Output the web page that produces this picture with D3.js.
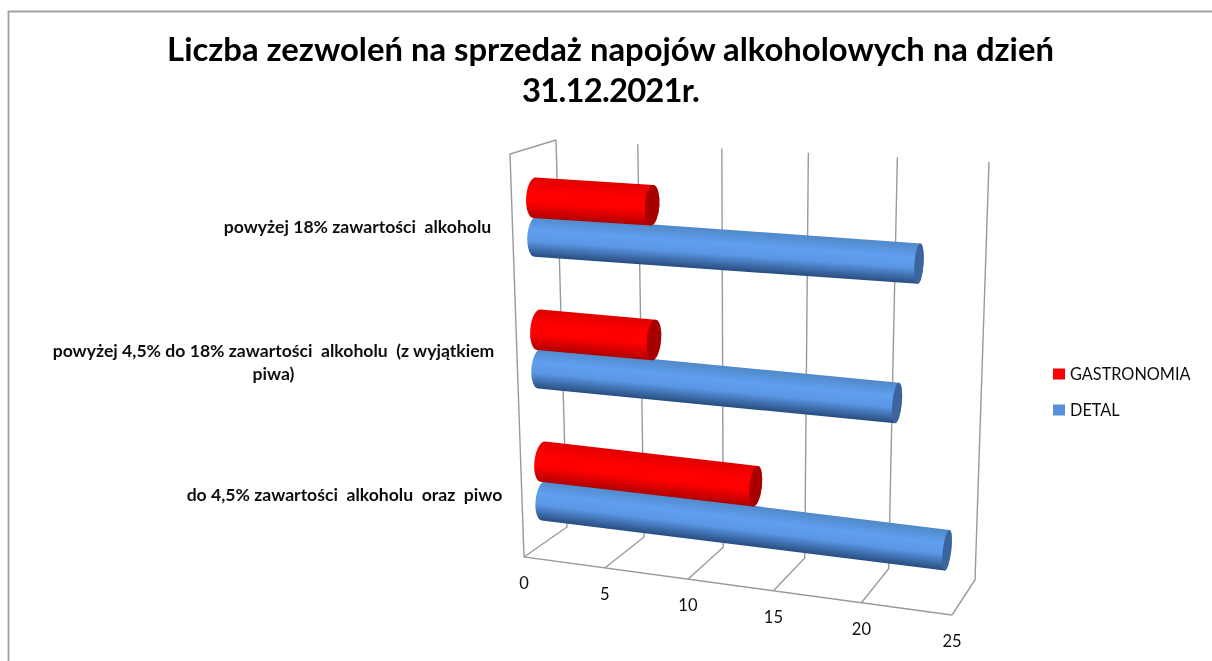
<!DOCTYPE html>
<html lang="pl"><head><meta charset="utf-8">
<script src="https://cdn.jsdelivr.net/npm/d3@7"></script>
<style>html,body{margin:0;background:#fff}svg{display:block}text{font-family:Lato,"Open Sans",sans-serif;fill:#111}</style>
</head><body><svg id="c" width="1212" height="661"></svg>
<script>
const titleLines = ["Liczba zezwoleń na sprzedaż napojów alkoholowych na dzień", "31.12.2021r."];
const categories = ["powyżej 18% zawartości  alkoholu", "powyżej 4,5% do 18% zawartości  alkoholu  (z wyjątkiem piwa)", "do 4,5% zawartości  alkoholu  oraz  piwo"];
const categoryLines = [["powyżej 18% zawartości  alkoholu"], ["powyżej 4,5% do 18% zawartości  alkoholu  (z wyjątkiem", "piwa)"], ["do 4,5% zawartości  alkoholu  oraz  piwo"]];
const seriesNames = ["GASTRONOMIA", "DETAL"];
const gastronomia = [7, 7, 13];
const detal = [22, 21, 24];
const ticks = [0, 5, 10, 15, 20, 25];

const svg = d3.select("#c");
const defs = svg.append("defs");
defs.append("filter").attr("id","soft").attr("x","-5%").attr("y","-5%").attr("width","110%").attr("height","110%")
  .append("feGaussianBlur").attr("stdDeviation",0.45);

// 3D box projected on the page
const box = {
  fb0:[524,557], fb1:[952,615], bb0:[567,527], bb1:[975,580],
  bt0:[556,140], bt1:[989,162], ft0:[510,154], ft1:[968,180]
};
const tScale = d3.scaleLinear().domain([0,25]).range([0,1]);
const u = v => { const t = tScale(v); return t/(t+(1-t)*1.074); };
const lerp = (a,b,k)=>[a[0]+(b[0]-a[0])*k, a[1]+(b[1]-a[1])*k];
function project(v, depth, h){
  const k = u(v);
  const fb = lerp(box.fb0,box.fb1,k), bb = lerp(box.bb0,box.bb1,k),
        bt = lerp(box.bt0,box.bt1,k), ft = lerp(box.ft0,box.ft1,k);
  return lerp(lerp(fb,bb,depth), lerp(ft,bt,depth), h);
}
const hBand = d3.scaleBand().domain([...categories].reverse()).range([-0.0125,0.9895]);
const hSeries = d3.scalePoint().domain([seriesNames[1],seriesNames[0]]).range([-0.049,0.049]);

const root = svg.append("g").attr("filter","url(#soft)");
root.append("path").attr("d","M8.5,661V11.5H1212").attr("fill","none").attr("stroke","#a0a0a0").attr("stroke-width",1.8);

const grid = root.append("g").attr("fill","none").attr("stroke","#9a9a9a").attr("stroke-width",1.4);
const line = d3.line();
ticks.forEach(t=>{
  grid.append("path").attr("d",line([project(t,1,1),project(t,1,0),project(t,0,0)]));
});
grid.append("path").attr("d",line([project(0,1,1),project(0,0,1),project(0,0,0),project(25,0,0)]));

root.append("g").selectAll("text").data(ticks).join("text")
  .attr("x",d=>project(d,0,0)[0]).attr("y",d=>project(d,0,0)[1]+32)
  .attr("text-anchor","middle").attr("font-size",16.5).text(d=>d);

const palette = {
  [seriesNames[0]]:{stops:["#e00000","#ff0000","#ff0000","#b00000"],cap:"#a80000"},
  [seriesNames[1]]:{stops:["#5088c8","#609ff0","#5a96e4","#274d7e"],cap:"#3b659c"}
};
const R = 20.3, depthBar = 0.5;
const capRx = d3.scaleLinear().domain([0,25]).range([8.5,4]);
function cylinder(g, name, value, cat, id){
  const h = hBand(cat)+hBand.bandwidth()/2+hSeries(name);
  const A = project(0,depthBar,h), B = project(value,depthBar,h);
  const dx=B[0]-A[0], dy=B[1]-A[1], len=Math.hypot(dx,dy);
  const n=[-dy/len,dx/len], rot=Math.atan2(dy,dx)*180/Math.PI;
  const pt=(p,s)=>[p[0]+n[0]*R*s,p[1]+n[1]*R*s];
  const A1=pt(A,-1),A2=pt(A,1),B1=pt(B,-1),B2=pt(B,1);
  const grad=defs.append("linearGradient").attr("id",id).attr("gradientUnits","userSpaceOnUse")
    .attr("x1",A1[0]).attr("y1",A1[1]).attr("x2",A2[0]).attr("y2",A2[1]);
  const p=palette[name];
  [0,0.35,0.62,1].forEach((o,i)=>grad.append("stop").attr("offset",o).attr("stop-color",p.stops[i]));
  const r0=capRx(0), r1=capRx(value);
  g.append("path").attr("fill",`url(#${id})`)
   .attr("d",`M${A1}L${B1}A${r1},${R} ${rot} 0 1 ${B2}L${A2}A${r0},${R} ${rot} 0 1 ${A1}Z`);
  g.append("ellipse").attr("fill",p.cap).attr("rx",r1).attr("ry",R)
   .attr("transform",`translate(${B}) rotate(${rot})`);
}
const marks = root.append("g");
categories.forEach((c,i)=>{
  cylinder(marks, seriesNames[1], detal[i], c, "d"+i);
  cylinder(marks, seriesNames[0], gastronomia[i], c, "g"+i);
});

const labelPos = d3.scaleOrdinal().domain(categories).range([[357.5,233],[273.5,357],[344.5,501]]);
const labels = root.append("g");
categories.forEach((c,i)=>{
  const [x,y]=labelPos(c);
  categoryLines[i].forEach((s,j)=>labels.append("text").attr("x",x).attr("y",y+j*23)
    .attr("xml:space","preserve").style("white-space","pre")
    .attr("text-anchor","middle").attr("font-size",17.6).attr("font-weight",700).text(s));
});

root.append("g").selectAll("text").data(titleLines).join("text")
  .attr("x",610.5).attr("y",(d,i)=>61+i*41).attr("text-anchor","middle")
  .attr("font-size",32.8).attr("font-weight",700).attr("letter-spacing",(d,i)=>i?-0.8:0).style("fill","#000").text(d=>d);

const legY = d3.scalePoint().domain(seriesNames).range([374,410]);
const leg = root.append("g").selectAll("g").data(seriesNames).join("g")
  .attr("transform",d=>`translate(1053,${legY(d)})`);
leg.append("rect").attr("y",-5.5).attr("width",12).attr("height",11).attr("fill",(d,i)=>["#ff0000","#588fd8"][i]);
leg.append("text").attr("x",17).attr("y",6).attr("font-size",16.3).text(d=>d);
</script></body></html>
